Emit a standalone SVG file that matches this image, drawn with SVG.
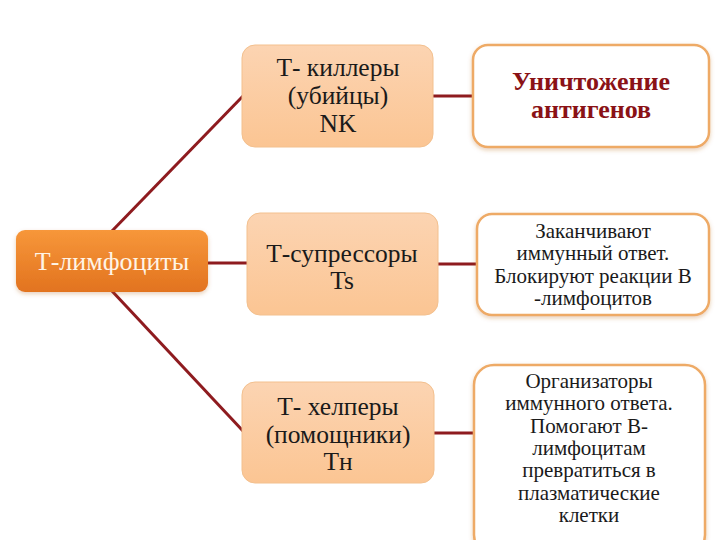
<svg xmlns="http://www.w3.org/2000/svg" width="720" height="540" viewBox="0 0 720 540">
<defs>
<linearGradient id="gOrange" x1="0" y1="0" x2="0" y2="1"><stop offset="0" stop-color="#f7973a"/><stop offset="1" stop-color="#e2731f"/></linearGradient>
<linearGradient id="gPeach" x1="0" y1="0" x2="0" y2="1"><stop offset="0" stop-color="#fcd4b2"/><stop offset="1" stop-color="#fbc593"/></linearGradient>
<filter id="sh" x="-10%" y="-10%" width="120%" height="130%"><feDropShadow dx="0" dy="2" stdDeviation="2" flood-color="#b06020" flood-opacity="0.3"/></filter>
</defs>
<style>
.mid{fill:url(#gPeach);stroke:#f3c08e;stroke-width:1}
.res{fill:#fff;stroke:#eeaa66;stroke-width:2.5}
.t{font-family:'Liberation Serif',serif;text-anchor:middle;fill:#1a1a1a}
.tm{font-size:25.5px}
.tr{font-size:21px}
.con{stroke:#8e1b1f;stroke-width:3;fill:none}
</style>
<rect width="720" height="540" fill="#fff"/>
<g id="connectors">
<line class="con" x1="112" y1="231" x2="243" y2="96"/>
<line class="con" x1="112" y1="291" x2="243" y2="431"/>
<line class="con" x1="207" y1="263" x2="248" y2="263"/>
<line class="con" x1="433" y1="96" x2="474" y2="96"/>
<line class="con" x1="437" y1="264" x2="478" y2="264"/>
<line class="con" x1="433" y1="433" x2="475" y2="433"/>
</g>
<g id="n-t-lymph">
<rect x="16" y="230" width="192" height="62" rx="9" fill="url(#gOrange)" filter="url(#sh)"/>
<text class="t" x="112" y="270" font-size="26" style="fill:#fff4e6">Т-лимфоциты</text>
</g>
<g id="n-killers">
<rect class="mid" x="242" y="45" width="191" height="102" rx="13"/>
<text class="t tm" x="338" y="76">Т- киллеры</text>
<text class="t tm" x="338" y="104">(убийцы)</text>
<text class="t tm" x="338" y="132">NK</text>
</g>
<g id="n-destroy">
<rect class="res" x="473" y="45" width="236" height="102" rx="15" filter="url(#sh)"/>
<text class="t" x="591" y="90" font-size="26" font-weight="bold" style="fill:#8a1216">Уничтожение</text>
<text class="t" x="591" y="118" font-size="26" font-weight="bold" style="fill:#8a1216">антигенов</text>
</g>
<g id="n-suppressors">
<rect class="mid" x="247" y="213" width="191" height="102" rx="13"/>
<text class="t tm" x="342" y="262">Т-супрессоры</text>
<text class="t tm" x="342" y="289">Ts</text>
</g>
<g id="n-finish">
<rect class="res" x="477" y="214" width="232" height="101" rx="15" filter="url(#sh)"/>
<text class="t tr" x="593" y="238">Заканчивают</text>
<text class="t tr" x="593" y="260">иммунный ответ.</text>
<text class="t tr" x="593" y="283">Блокируют реакции В</text>
<text class="t tr" x="593" y="305">-лимфоцитов</text>
</g>
<g id="n-helpers">
<rect class="mid" x="242" y="382" width="192" height="101" rx="13"/>
<text class="t tm" x="338" y="415">Т- хелперы</text>
<text class="t tm" x="338" y="443">(помощники)</text>
<text class="t tm" x="338" y="470">Тн</text>
</g>
<g id="n-organize">
<rect class="res" x="474" y="365" width="231" height="190" rx="20" filter="url(#sh)"/>
<text class="t tr" x="589" y="388">Организаторы</text>
<text class="t tr" x="589" y="410">иммунного ответа.</text>
<text class="t tr" x="589" y="433">Помогают В-</text>
<text class="t tr" x="589" y="455">лимфоцитам</text>
<text class="t tr" x="589" y="477">превратиться в</text>
<text class="t tr" x="589" y="500">плазматические</text>
<text class="t tr" x="589" y="522">клетки</text>
</g>
</svg>
